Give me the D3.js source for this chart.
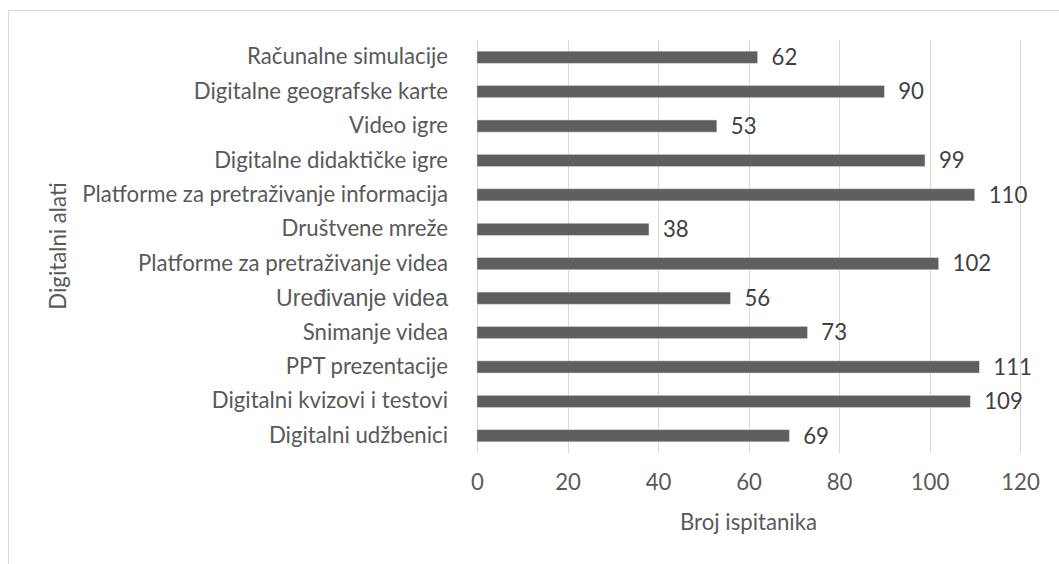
<!DOCTYPE html>
<html><head><meta charset="utf-8">
<script src="https://cdn.jsdelivr.net/npm/d3@7"></script>
<style>
html,body{margin:0;padding:0;background:#fff;}
svg{display:block;}
</style></head>
<body>
<svg id="c" width="1059" height="564"></svg>
<script>
const categories = [
  "Računalne simulacije",
  "Digitalne geografske karte",
  "Video igre",
  "Digitalne didaktičke igre",
  "Platforme za pretraživanje informacija",
  "Društvene mreže",
  "Platforme za pretraživanje videa",
  "Uređivanje videa",
  "Snimanje videa",
  "PPT prezentacije",
  "Digitalni kvizovi i testovi",
  "Digitalni udžbenici"
];
const values = [62, 90, 53, 99, 110, 38, 102, 56, 73, 111, 109, 69];
const xTicks = [0, 20, 40, 60, 80, 100, 120];
const xTitle = "Broj ispitanika";
const yTitle = "Digitalni alati";

const FONT = "Lato, 'Open Sans', sans-serif";
const TXT = "#595959";
const svg = d3.select("#c");

// chart border
svg.append("rect").attr("x", 8.5).attr("y", 10.5).attr("width", 1100).attr("height", 600)
  .attr("fill", "none").attr("stroke", "#d9d9d9").attr("stroke-width", 1);

const x = d3.scaleLinear().domain([0, 120]).range([477, 1020]);
const y = d3.scaleBand().domain(categories).range([40, 453]).paddingInner(0.65).paddingOuter(0.325);

// auto-size font so the longest label matches the reference width
const probe = svg.append("text").attr("font-family", FONT).attr("font-size", 20)
  .text("Platforme za pretraživanje informacija");
const w = probe.node().getComputedTextLength();
probe.remove();
const fs = 20 * 366 / w;

// gridlines
svg.append("g").selectAll("line").data(xTicks).join("line")
  .attr("x1", d => Math.round(x(d)) + 0.5).attr("x2", d => Math.round(x(d)) + 0.5)
  .attr("y1", 40).attr("y2", 453)
  .attr("stroke", "#d9d9d9").attr("stroke-width", 1);

// x axis labels
const xAxis = d3.axisBottom(x).tickValues(xTicks).tickSize(0).tickPadding(0);
const gx = svg.append("g").attr("transform", "translate(0,474)").call(xAxis);
gx.select(".domain").remove();
gx.selectAll("text").attr("font-family", FONT).attr("font-size", fs).attr("fill", TXT).attr("dy", "0.71em");

// y axis labels
const yAxis = d3.axisLeft(y).tickSize(0).tickPadding(0);
const gy = svg.append("g").attr("transform", "translate(448,0)").call(yAxis);
gy.select(".domain").remove();
gy.selectAll("text").attr("font-family", d => d === "Uređivanje videa" ? "'Liberation Sans', Arial, sans-serif" : FONT)
  .attr("font-size", d => d === "Uređivanje videa" ? fs * 1.04 : fs).attr("fill", TXT);

// bars
svg.append("g").selectAll("rect").data(categories).join("rect")
  .attr("x", x(0)).attr("y", d => y(d))
  .attr("width", (d, i) => x(values[i]) - x(0)).attr("height", y.bandwidth())
  .attr("fill", "#5f5f5f").attr("stroke", "#cfcfcf").attr("stroke-width", 0.5);

// value labels
svg.append("g").selectAll("text").data(categories).join("text")
  .attr("x", (d, i) => x(values[i]) + 14)
  .attr("y", d => y(d) + y.bandwidth() / 2)
  .attr("dy", "0.35em")
  .attr("font-family", FONT).attr("font-size", fs).attr("fill", "#404040")
  .text((d, i) => values[i]);

// titles
svg.append("text").attr("x", (x(0) + x(120)) / 2).attr("y", 522).attr("dy", "0.35em")
  .attr("text-anchor", "middle").attr("font-family", FONT).attr("font-size", fs).attr("fill", TXT)
  .text(xTitle);
svg.append("text").attr("transform", "translate(58,246) rotate(-90)").attr("dy", "0.35em")
  .attr("text-anchor", "middle").attr("font-family", FONT).attr("font-size", fs).attr("fill", TXT)
  .text(yTitle);
</script>
</body></html>
